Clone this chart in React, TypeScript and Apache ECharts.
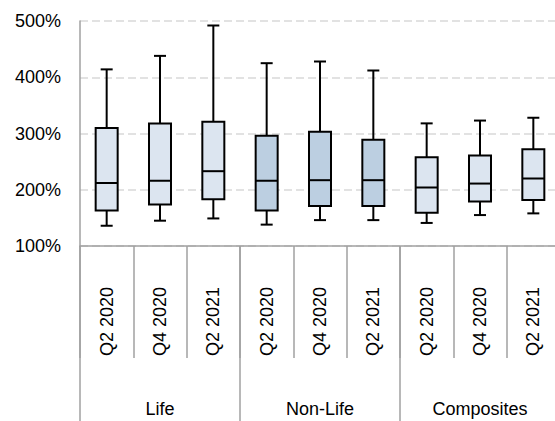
import React, { useEffect, useRef } from "react";
import * as echarts from "echarts";

const categories = ["Q2 2020", "Q4 2020", "Q2 2021", "Q2 2020", "Q4 2020", "Q2 2021", "Q2 2020", "Q4 2020", "Q2 2021"];
const groups = ["Life", "Non-Life", "Composites"];
const mins = [136, 145, 149, 138, 146, 146, 141, 155, 158];
const q1s = [163, 174, 183, 163, 171, 171, 159, 179, 182];
const medians = [212, 216, 233, 216, 217, 217, 204, 211, 220];
const q3s = [310, 318, 321, 296, 303, 289, 258, 261, 272];
const maxs = [414, 438, 492, 425, 428, 412, 318, 323, 328];
const yTicks = [100, 200, 300, 400, 500];

const FONT = "Liberation Sans";

export default function App() {
  const ref = useRef<HTMLDivElement>(null);
  useEffect(() => {
    if (!ref.current) return;
    const chart = echarts.init(ref.current, undefined, { renderer: "svg" });
    const data = categories.map((_, i) => [i, mins[i], q1s[i], medians[i], q3s[i], maxs[i]]);
    chart.setOption({
      animation: false,
      grid: { left: 80, top: 21, width: 480, height: 225, containLabel: false, outerBoundsMode: "none" },
      xAxis: [
        {
          type: "category",
          data: categories,
          position: "bottom",
          boundaryGap: true,
          axisLine: { show: true, lineStyle: { color: "#a0a0a0", width: 1.5 } },
          axisTick: { show: true, interval: 0, length: 112, lineStyle: { color: "#a0a0a0", width: 1.5 } },
          axisLabel: { interval: 0, rotate: 90, margin: 41, color: "#000", fontFamily: FONT, fontSize: 18 },
          splitLine: { show: false },
        },
        {
          type: "category",
          data: groups,
          position: "bottom",
          offset: 0,
          boundaryGap: true,
          axisLine: { show: false },
          axisTick: { show: true, interval: 0, length: 180, lineStyle: { color: "#a0a0a0", width: 1.5 } },
          axisLabel: { interval: 0, margin: 154, color: "#000", fontFamily: FONT, fontSize: 18 },
          splitLine: { show: false },
        },
      ],
      yAxis: {
        type: "value",
        min: yTicks[0],
        max: yTicks[yTicks.length - 1],
        interval: 100,
        axisLine: { show: true, lineStyle: { color: "#a0a0a0", width: 1.5 } },
        axisTick: { show: false },
        axisLabel: { formatter: "{value}%", margin: 19, color: "#000", fontFamily: FONT, fontSize: 18 },
        splitLine: { show: true, lineStyle: { color: "#d9d9d9", width: 1.5, type: [8, 4] } },
      },
      series: [
        {
          type: "custom",
          xAxisIndex: 0,
          encode: { x: 0, y: [1, 2, 3, 4, 5] },
          data,
          renderItem: (params: any, api: any) => {
            const i = api.value(0);
            const pMin = api.coord([i, api.value(1)]);
            const pQ1 = api.coord([i, api.value(2)]);
            const pMed = api.coord([i, api.value(3)]);
            const pQ3 = api.coord([i, api.value(4)]);
            const pMax = api.coord([i, api.value(5)]);
            const x = pMin[0];
            const bw = 22;
            const cw = 12;
            const fill = Math.floor(i / 3) === 1 ? "#bccfe1" : "#dce5f0";
            const st = { stroke: "#000", lineWidth: 2 };
            return {
              type: "group",
              children: [
                { type: "line", shape: { x1: x, y1: pMax[1], x2: x, y2: pQ3[1] }, style: st },
                { type: "line", shape: { x1: x, y1: pQ1[1], x2: x, y2: pMin[1] }, style: st },
                { type: "line", shape: { x1: x - cw / 2, y1: pMax[1], x2: x + cw / 2, y2: pMax[1] }, style: st },
                { type: "line", shape: { x1: x - cw / 2, y1: pMin[1], x2: x + cw / 2, y2: pMin[1] }, style: st },
                {
                  type: "rect",
                  shape: { x: x - bw / 2, y: pQ3[1], width: bw, height: pQ1[1] - pQ3[1] },
                  style: { fill, stroke: "#000", lineWidth: 2 },
                },
                { type: "line", shape: { x1: x - bw / 2, y1: pMed[1], x2: x + bw / 2, y2: pMed[1] }, style: st },
              ],
            };
          },
        },
      ],
    });
    return () => chart.dispose();
  }, []);
  return (
    <div
      ref={ref}
      style={{ position: "fixed", left: 0, top: 0, width: 555, height: 421, background: "#fff" }}
    />
  );
}
